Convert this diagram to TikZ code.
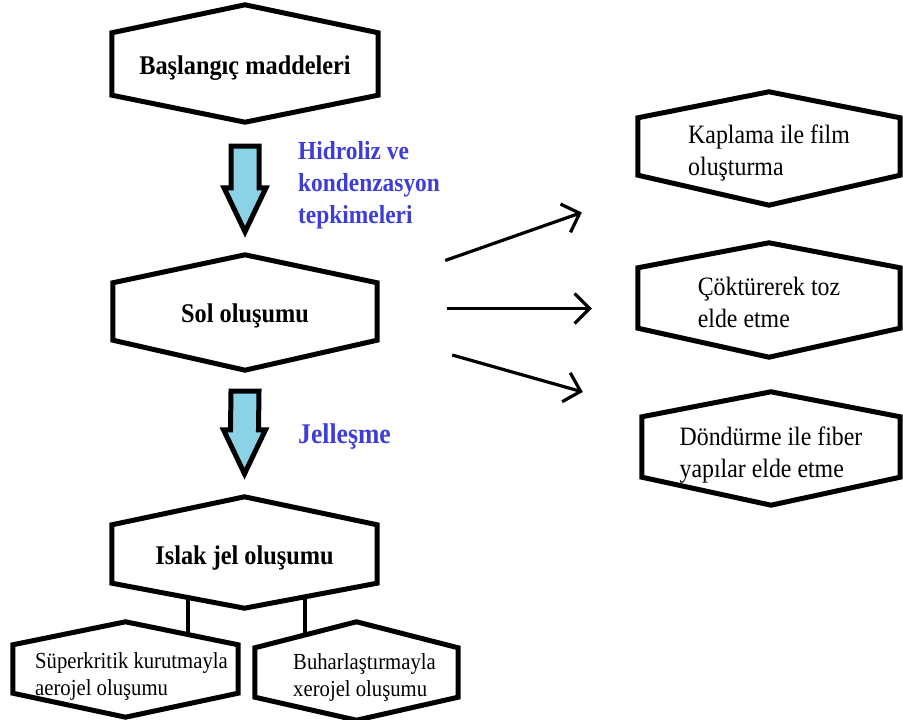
\documentclass[tikz,border=0pt]{standalone}
\usepackage{fontspec}
\setmainfont[FakeStretch=0.9]{Liberation Serif}
\usetikzlibrary{arrows.meta}
\definecolor{notecolor}{RGB}{62,62,214}
\definecolor{shaftfill}{RGB}{140,210,230}
\pgfdeclarelayer{links}
\pgfdeclarelayer{frames}
\pgfsetlayers{links,frames,main}
\tikzset{
  hexbox/.style 2 args={inner sep=0pt,minimum width=#1pt,minimum height=#2pt},
  hexline/.style={line width=5pt,fill=white,line join=miter},
  mainbox/.style={font=\bfseries\fontsize{27}{30}\selectfont,text height=24pt,text depth=2pt},
  sidetext/.style={font=\fontsize{26.5}{32}\selectfont,align=left,yshift=-6pt},
  smalltext/.style={font=\fontsize{23}{27}\selectfont,align=left,yshift=-7pt},
  note/.style={text=notecolor,font=\bfseries\fontsize{26}{32}\selectfont,align=left,anchor=west,inner sep=0pt},
  blockline/.style={line width=5pt,fill=shaftfill,line join=miter},
  flow/.style={-{Straight Barb[length=15pt,width=30pt]},line width=3.2pt},
  link/.style={line width=4pt}
}
\def\shaft{14}
\def\head{21}
\def\headlen{44}
\def\gap{51}
\newcommand\hexframe[3]{%
  \begin{pgfonlayer}{frames}
    \draw[hexline] (#1.north west) -- ([yshift=#2]#1.north) -- (#1.north east)
      -- (#1.south east) -- ([yshift=-#3]#1.south) -- (#1.south west) -- cycle;
  \end{pgfonlayer}}
\newcommand\blockarrow[2]{%
  \draw[blockline] ([shift={(-\shaft,-\gap)}]#1) -- ([shift={(\shaft,-\gap)}]#1)
    -- ([shift={(\shaft,\gap+\headlen)}]#2) -- ([shift={(\head,\gap+\headlen)}]#2)
    -- ([yshift=\gap]#2) -- ([shift={(-\head,\gap+\headlen)}]#2)
    -- ([shift={(-\shaft,\gap+\headlen)}]#2) -- cycle;}

\begin{document}
\begin{tikzpicture}[x=1pt,y=1pt]
  \useasboundingbox (0,0) rectangle (903,720);

  % Main line
  \node[hexbox={266}{62},mainbox] (start) at (245,656) {Başlangıç maddeleri};
  \node[hexbox={264}{57},mainbox] (sol) at (245,408.5) {Sol oluşumu};
  \node[hexbox={265}{58},mainbox] (wet) at (244.5,166) {Islak jel oluşumu};
  \hexframe{start}{28}{27}
  \hexframe{sol}{28}{30}
  \hexframe{wet}{28}{25}

  % Block arrows
  \blockarrow{start.south}{sol.north}
  \blockarrow{sol.south}{wet.north}
  \node[note] (hydro) at (298,535) {Hidroliz ve\\kondenzasyon\\tepkimeleri};
  \node[note,font=\bfseries\fontsize{28.5}{32}\selectfont] (gelling) at (298,283) {Jelleşme};

  % Products of the sol
  \node[hexbox={262}{57},label={[sidetext,name=filmtext]center:{Kaplama ile film\\oluşturma}}] (film) at (769,573.5) {};
  \node[hexbox={262}{60},label={[sidetext,name=powdertext,yshift=2pt]center:{Çöktürerek toz\\elde etme}}] (powder) at (769,422) {};
  \node[hexbox={258}{60},label={[sidetext,name=fibertext,yshift=-2pt]center:{Döndürme ile fiber\\yapılar elde etme}}] (fiber) at (771,273) {};
  \hexframe{film}{26}{30}
  \hexframe{powder}{25}{29}
  \hexframe{fiber}{25}{28}
  \draw[flow] ([shift={(68,51)}]sol.east) -- ([shift={(-56,-66)}]film.west);
  \draw[flow] ([shift={(70,3)}]sol.east) -- ([shift={(-46,3)}]sol.east -| powder.west);
  \draw[flow] ([shift={(75,-43.5)}]sol.east) -- ([shift={(-59,55)}]fiber.west);

  % Drying
  \node[hexbox={225}{48},label={[smalltext,name=aerotext,xshift=6pt]center:{Süperkritik kurutmayla\\aerojel oluşumu}}] (aero) at (125.5,51) {};
  \node[hexbox={203}{49},label={[smalltext,name=xerotext,xshift=8pt,yshift=2pt]center:{Buharlaştırmayla\\xerojel oluşumu}}] (xero) at (356.5,47.5) {};
  \hexframe{aero}{23}{24}
  \hexframe{xero}{26}{23}
  \begin{pgfonlayer}{links}
    \draw[link] ([xshift=62.5]aero.center) -- ([xshift=62.5]aero.center |- wet.center);
    \draw[link] ([xshift=-51.5]xero.center) -- ([xshift=-51.5]xero.center |- wet.center);
  \end{pgfonlayer}
\end{tikzpicture}
\end{document}
